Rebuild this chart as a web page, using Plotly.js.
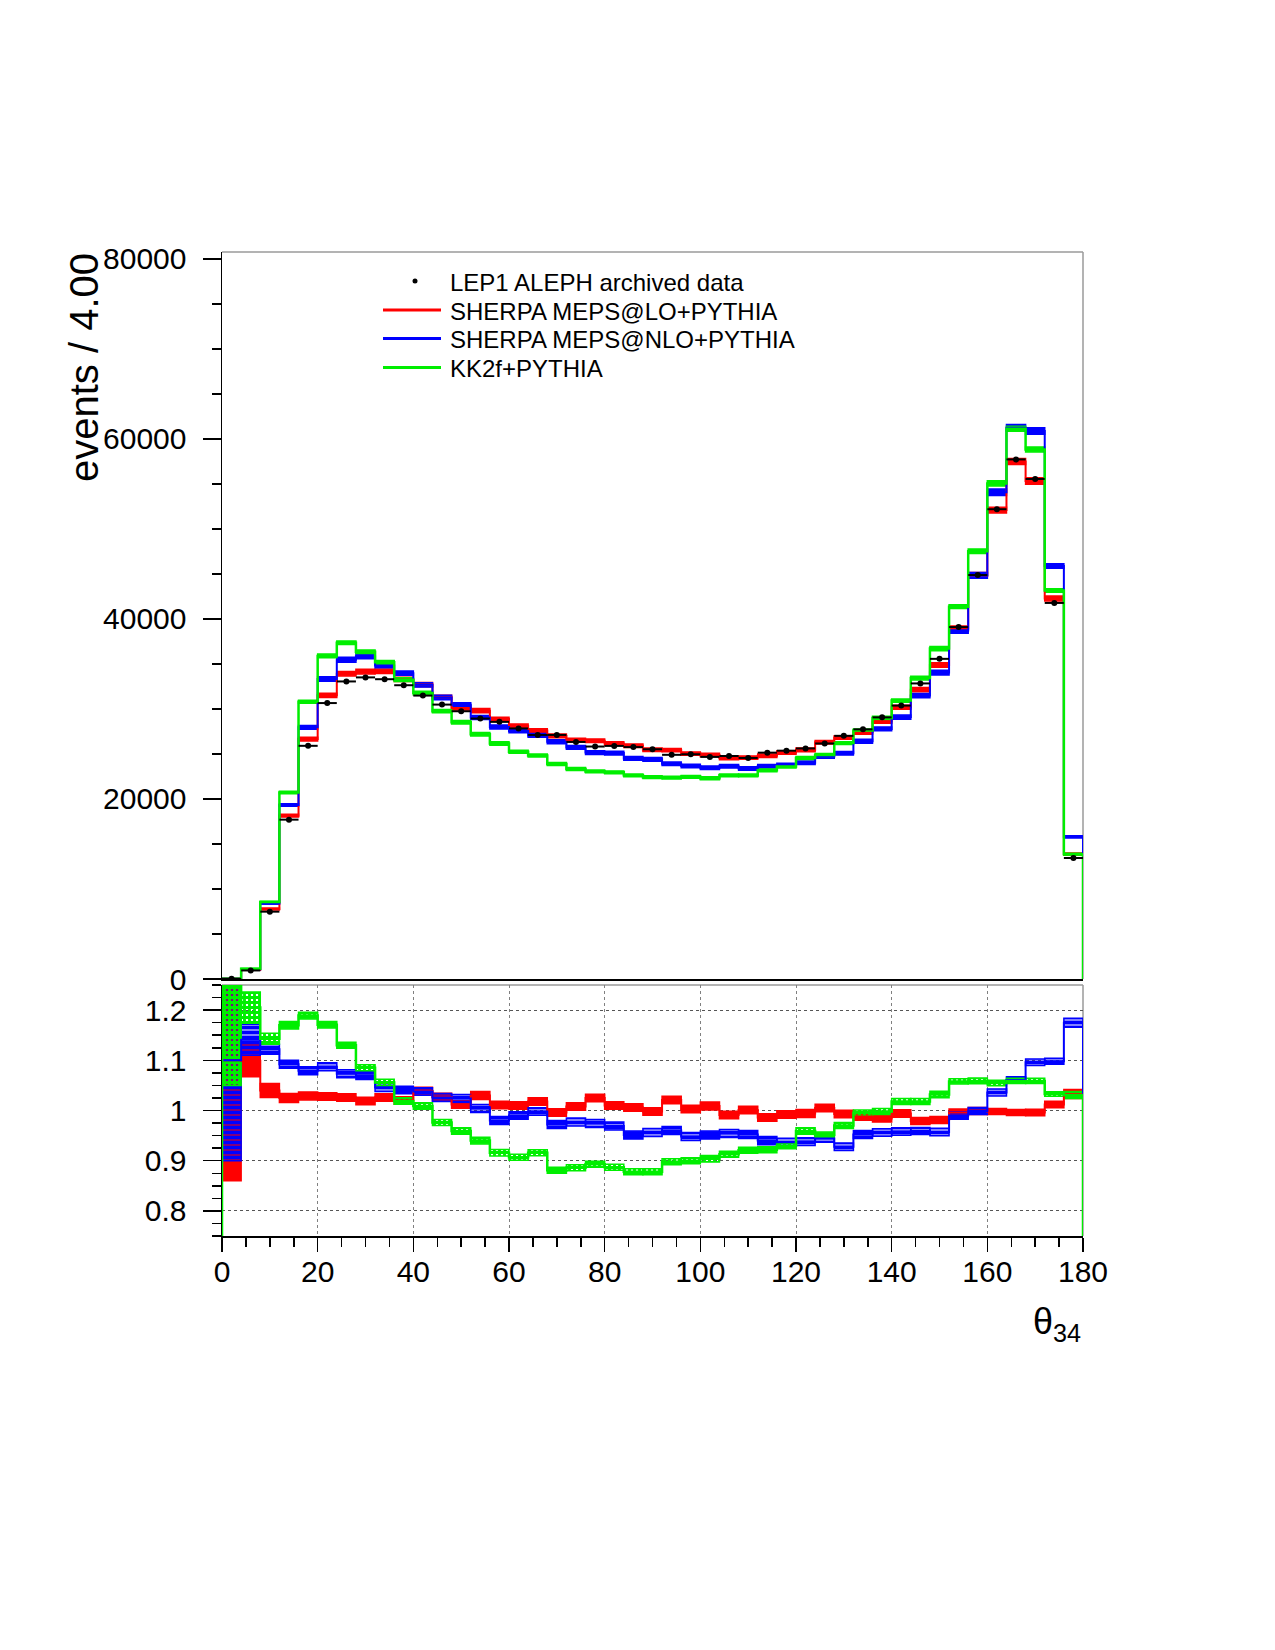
<!DOCTYPE html>
<html>
<head>
<meta charset="utf-8">
<script src="https://cdn.plot.ly/plotly-3.0.1.min.js"></script>
<style>
  html, body { margin: 0; padding: 0; background: #ffffff; }
  #plot { width: 1275px; height: 1650px; }
</style>
</head>
<body>
<div id="plot"></div>
<script>
// theta_34 distribution: 45 bins of 4 degrees from 0 to 180
const binWidth = 4;
const nBins = 45;

// LEP1 ALEPH archived data, events per bin
const dataEvents = [25, 950, 7480, 17700, 25900, 30650, 33050, 33500, 33300, 32630,
  31480, 30480, 29740, 28930, 28560, 27830, 27110, 27110, 26330, 25820,
  25890, 25760, 25520, 24900, 24960, 24670, 24770, 24550, 25140, 25360,
  25610, 26160, 27010, 27730, 29060, 30370, 32830, 35560, 39090, 44870,
  52180, 57710, 55540, 41770, 13440];

// SHERPA MEPS@LO+PYTHIA
const sherpaLO = [28, 1040, 7780, 18140, 26650, 31510, 33910, 34140, 34170, 33280,
  32710, 31300, 30100, 29800, 28870, 28110, 27600, 27000, 26540, 26470,
  26150, 25920, 25470, 25420, 25040, 24890, 24550, 24580, 24790, 25160,
  25460, 26290, 26820, 27400, 28600, 30190, 32140, 34880, 38930, 44830,
  52080, 57480, 55320, 42270, 13880];

// SHERPA MEPS@NLO+PYTHIA
const sherpaNLO = [28, 1080, 8390, 19330, 27950, 33320, 35460, 35850, 34830, 33970,
  32680, 31270, 30450, 29050, 27990, 27550, 27060, 26350, 25720, 25150,
  25090, 24500, 24400, 23900, 23660, 23460, 23630, 23370, 23630, 23760,
  24020, 24700, 25070, 26400, 27780, 29090, 31480, 34030, 38700, 44830,
  54060, 61230, 60870, 45860, 15790];

// KK2f+PYTHIA
const kk2f = [31, 1150, 8550, 20710, 30800, 35890, 37350, 36350, 35170, 33250,
  31760, 29750, 28520, 27190, 26160, 25240, 24830, 23880, 23330, 23060,
  22960, 22620, 22410, 22360, 22460, 22300, 22620, 22610, 23180, 23590,
  24560, 24880, 26200, 27590, 29000, 30920, 33420, 36700, 41360, 47520,
  55050, 61120, 58820, 43150, 13860];

// MC / data ratios
const ratioLO = [1.10, 1.099, 1.040, 1.025, 1.029, 1.028, 1.026, 1.019, 1.026, 1.020,
  1.039, 1.027, 1.012, 1.030, 1.011, 1.010, 1.018, 0.996, 1.008, 1.025,
  1.010, 1.006, 0.998, 1.021, 1.003, 1.009, 0.991, 1.001, 0.986, 0.992,
  0.994, 1.005, 0.993, 0.988, 0.984, 0.994, 0.979, 0.981, 0.996, 0.999,
  0.998, 0.996, 0.996, 1.012, 1.033];
const ratioNLO = [1.10, 1.141, 1.122, 1.092, 1.079, 1.087, 1.073, 1.070, 1.046, 1.041,
  1.038, 1.026, 1.024, 1.004, 0.980, 0.990, 0.998, 0.972, 0.977, 0.974,
  0.969, 0.951, 0.956, 0.960, 0.948, 0.951, 0.954, 0.952, 0.940, 0.937,
  0.938, 0.944, 0.928, 0.952, 0.956, 0.958, 0.959, 0.957, 0.990, 0.999,
  1.036, 1.061, 1.096, 1.098, 1.175];
const ratioKK = [1.25, 1.205, 1.143, 1.170, 1.189, 1.171, 1.130, 1.085, 1.056, 1.019,
  1.009, 0.976, 0.959, 0.940, 0.916, 0.907, 0.916, 0.881, 0.886, 0.893,
  0.887, 0.878, 0.878, 0.898, 0.900, 0.904, 0.913, 0.921, 0.922, 0.930,
  0.959, 0.951, 0.970, 0.995, 0.998, 1.018, 1.018, 1.032, 1.058, 1.059,
  1.055, 1.059, 1.059, 1.033, 1.031];

// half-widths of the ratio uncertainty bands
const errLO = [0.24, 0.032, 0.014, 0.009, 0.008, 0.0075, 0.0075, 0.0075, 0.0075, 0.0075,
  0.0075, 0.0075, 0.0075, 0.008, 0.0075, 0.0075, 0.0075, 0.0075, 0.0075, 0.0075,
  0.0075, 0.0075, 0.0075, 0.0075, 0.0075, 0.008, 0.0075, 0.0075, 0.0075, 0.0075,
  0.008, 0.0075, 0.0075, 0.0075, 0.007, 0.0075, 0.007, 0.007, 0.007, 0.007,
  0.006, 0.006, 0.0065, 0.0065, 0.009];
const errNLO = [0.20, 0.031, 0.010, 0.008, 0.008, 0.008, 0.008, 0.008, 0.008, 0.0075,
  0.0075, 0.008, 0.008, 0.008, 0.008, 0.0075, 0.0075, 0.008, 0.008, 0.008,
  0.008, 0.008, 0.008, 0.008, 0.008, 0.008, 0.008, 0.008, 0.008, 0.0075,
  0.0075, 0.007, 0.0075, 0.008, 0.0075, 0.0075, 0.007, 0.0075, 0.0075, 0.007,
  0.007, 0.006, 0.0065, 0.006, 0.009];
const errKK = [0.20, 0.031, 0.011, 0.0075, 0.0065, 0.0065, 0.006, 0.006, 0.0065, 0.0065,
  0.0065, 0.006, 0.0065, 0.0065, 0.0065, 0.006, 0.006, 0.006, 0.006, 0.006,
  0.006, 0.006, 0.006, 0.006, 0.006, 0.0065, 0.006, 0.006, 0.006, 0.006,
  0.0065, 0.006, 0.006, 0.006, 0.006, 0.006, 0.006, 0.0065, 0.005, 0.0055,
  0.0055, 0.005, 0.005, 0.0045, 0.007];

const legendLabels = ['LEP1 ALEPH archived data', 'SHERPA MEPS@LO+PYTHIA',
  'SHERPA MEPS@NLO+PYTHIA', 'KK2f+PYTHIA'];

const RED = '#ff0000', BLUE = '#0000ff', GREEN = '#00ee00';

const binCenters = Array.from({length: nBins}, (_, i) => (i + 0.5) * binWidth);

// histogram outline: starts and ends on zero at the range edges
function stepTrace(vals, color, width, xa, ya) {
  const xs = [0], ys = [0];
  vals.forEach((v, i) => { xs.push(i * binWidth); ys.push(v); });
  xs.push(nBins * binWidth); ys.push(vals[vals.length - 1]);
  xs.push(nBins * binWidth); ys.push(0);
  return {type: 'scatter', mode: 'lines', x: xs, y: ys, xaxis: xa, yaxis: ya,
    line: {color: color, width: width, shape: 'hv'}, hoverinfo: 'skip'};
}

// filled uncertainty band per bin
function bandTrace(vals, half, color, pattern, xa, ya) {
  const marker = {color: color, line: {color: color, width: 1.5}};
  if (pattern) marker.pattern = pattern;
  return {type: 'bar', x: binCenters, base: vals.map((v, i) => v - half[i]),
    y: half.map(h => 2 * h), width: binWidth, xaxis: xa, yaxis: ya,
    marker: marker, hoverinfo: 'skip'};
}

// hatched fills for the ratio bands
const bluePattern = {shape: '-', fillmode: 'replace', size: 5, solidity: 0.8};
const greenPattern = {shape: '+', fillmode: 'replace', size: 5, solidity: 0.82};

const series = [
  {vals: sherpaLO, ratio: ratioLO, err: errLO, color: RED, pattern: null, lw: 2},
  {vals: sherpaNLO, ratio: ratioNLO, err: errNLO, color: BLUE, pattern: bluePattern, lw: 2},
  {vals: kk2f, ratio: ratioKK, err: errKK, color: GREEN, pattern: greenPattern, lw: 2.5}
];

const traces = [];
// upper panel: event counts
series.forEach(s => {
  const half = s.vals.map((v, i) => v * s.err[i] / s.ratio[i]);
  traces.push(bandTrace(s.vals, half, s.color, null, 'x', 'y'));
  traces.push(stepTrace(s.vals, s.color, s.lw, 'x', 'y'));
});
traces.push({type: 'scatter', mode: 'markers', x: binCenters, y: dataEvents,
  xaxis: 'x', yaxis: 'y', marker: {color: 'black', size: 6},
  error_x: {type: 'constant', value: binWidth / 2, thickness: 2, width: 0, color: 'black'},
  hoverinfo: 'skip'});
// lower panel: ratios to data
series.forEach(s => {
  traces.push(bandTrace(s.ratio, s.err, s.color, s.pattern, 'x2', 'y2'));
  traces.push(stepTrace(s.ratio, s.color, s.lw, 'x2', 'y2'));
});

// page geometry in pixels
const W = 1275, H = 1650;
const plotLeft = 222, plotRight = 1083, plotTop = 252, plotBottom = 1236;
const upperBottom = 979, lowerTop = 985;
const plotH = plotBottom - plotTop, plotW = plotRight - plotLeft;
const px = x => (x - plotLeft) / plotW;
const py = y => (plotBottom - y) / plotH;
const upperDomain = [py(upperBottom), 1];
const lowerDomain = [0, py(lowerTop)];

const FONT = 'Liberation Sans, Arial, sans-serif';
const tickFont = {family: FONT, size: 30, color: 'black'};
const FRAME = '#9a9a9a';

const shapes = [
  {type: 'line', xref: 'paper', yref: 'paper', x0: 0, x1: 1, y0: 1, y1: 1, line: {color: FRAME, width: 1.5}, layer: 'below'},
  {type: 'line', xref: 'paper', yref: 'paper', x0: 1, x1: 1, y0: upperDomain[0], y1: 1, line: {color: FRAME, width: 1.5}, layer: 'below'},
  {type: 'line', xref: 'paper', yref: 'paper', x0: 0, x1: 1, y0: lowerDomain[1], y1: lowerDomain[1], line: {color: FRAME, width: 1.5}, layer: 'below'},
  {type: 'line', xref: 'paper', yref: 'paper', x0: 1, x1: 1, y0: 0, y1: lowerDomain[1], line: {color: FRAME, width: 1.5}, layer: 'below'}
];

// legend
const legendRows = [281, 310, 338.5, 367.5];
const legendColors = [null, RED, BLUE, GREEN];
const annotations = [];
legendRows.forEach((y, i) => {
  if (i === 0) {
    shapes.push({type: 'circle', xref: 'paper', yref: 'paper',
      x0: px(412.5), x1: px(417.5), y0: py(283.5), y1: py(278.5),
      fillcolor: 'black', line: {color: 'black', width: 0}});
  } else {
    shapes.push({type: 'line', xref: 'paper', yref: 'paper',
      x0: px(383), x1: px(441), y0: py(y), y1: py(y),
      line: {color: legendColors[i], width: 3}});
  }
  annotations.push({xref: 'paper', yref: 'paper', x: px(448), y: py(y + 1),
    xanchor: 'left', yanchor: 'middle', showarrow: false, text: legendLabels[i],
    font: {family: FONT, size: 24, color: 'black'}});
});

// axis titles
annotations.push({xref: 'paper', yref: 'paper', x: px(84), y: py(368),
  xanchor: 'center', yanchor: 'middle', textangle: -90, showarrow: false,
  text: 'events / 4.00',
  font: {family: FONT, size: 40, color: 'black'}});
annotations.push({xref: 'paper', yref: 'paper', x: 1, y: py(1324),
  xanchor: 'right', yanchor: 'middle', showarrow: false,
  text: 'θ<sub>34</sub>',
  font: {family: FONT, size: 36, color: 'black'}});

const layout = {
  width: W, height: H,
  margin: {l: plotLeft, r: W - plotRight, t: plotTop, b: H - plotBottom, pad: 0},
  paper_bgcolor: '#ffffff', plot_bgcolor: '#ffffff',
  showlegend: false,
  barmode: 'overlay',
  font: {family: FONT, color: 'black'},
  xaxis: {domain: [0, 1], range: [0, 180], anchor: 'y', showticklabels: false,
    ticks: '', showgrid: false, zeroline: false, showline: true,
    linecolor: 'black', linewidth: 2},
  yaxis: {domain: upperDomain, range: [0, 80750], anchor: 'x',
    tick0: 0, dtick: 20000, tickformat: 'd',
    ticks: 'outside', ticklen: 18, tickwidth: 1.5, tickcolor: 'black',
    tickfont: tickFont, ticklabelstandoff: 10,
    minor: {dtick: 5000, tick0: 0, ticks: 'outside', ticklen: 9, tickwidth: 1.5,
      tickcolor: 'black', showgrid: false},
    showgrid: false, zeroline: false, showline: true, linecolor: 'black', linewidth: 1.5},
  xaxis2: {domain: [0, 1], range: [0, 180], anchor: 'y2',
    tick0: 0, dtick: 20, ticks: 'outside', ticklen: 14, tickwidth: 1.5, tickcolor: 'black',
    tickfont: tickFont, ticklabelstandoff: -6,
    minor: {dtick: 5, tick0: 0, ticks: 'outside', ticklen: 9, tickwidth: 1.5,
      tickcolor: 'black', showgrid: false},
    showgrid: true, gridcolor: '#808080', griddash: 'dot', gridwidth: 1,
    zeroline: false, showline: true, linecolor: 'black', linewidth: 2},
  yaxis2: {domain: lowerDomain, range: [0.75, 1.25], anchor: 'x2',
    tick0: 0.8, dtick: 0.1, ticks: 'outside', ticklen: 18, tickwidth: 1.5,
    tickcolor: 'black', tickfont: tickFont, ticklabelstandoff: 10,
    minor: {dtick: 0.025, tick0: 0.75, ticks: 'outside', ticklen: 9, tickwidth: 1.5,
      tickcolor: 'black', showgrid: false},
    showgrid: true, gridcolor: '#555555', griddash: 'dot', gridwidth: 1,
    zeroline: false, showline: true, linecolor: 'black', linewidth: 1.5},
  shapes: shapes,
  annotations: annotations
};

Plotly.newPlot('plot', traces, layout, {staticPlot: true, displayModeBar: false});
</script>
</body>
</html>
